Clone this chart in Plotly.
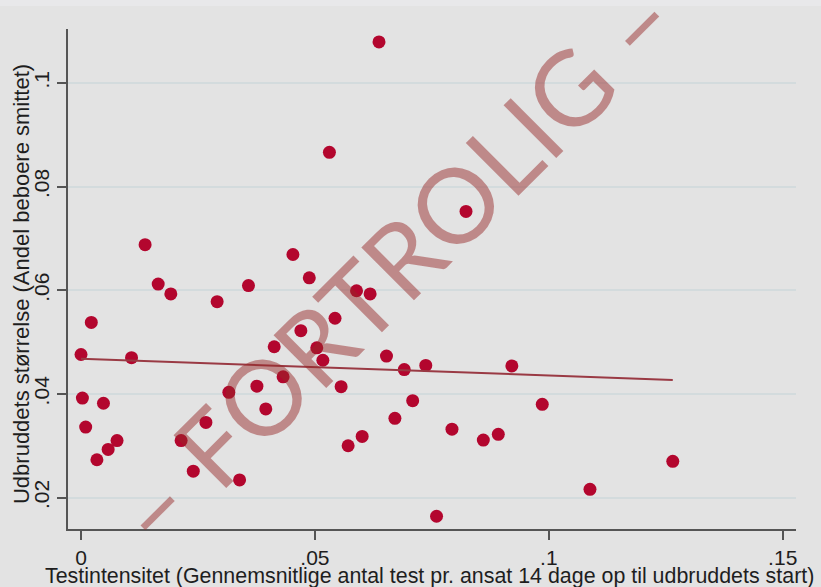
import plotly.graph_objects as go

# Test intensity (x) and outbreak size (y)
test_intensity = [0.0000, 0.0003, 0.0010, 0.0022, 0.0034, 0.0048, 0.0058, 0.0077, 0.0108, 0.0137,
                  0.0165, 0.0192, 0.0214, 0.0240, 0.0267, 0.0291, 0.0316, 0.0339, 0.0358, 0.0376,
                  0.0395, 0.0413, 0.0432, 0.0453, 0.0470, 0.0488, 0.0504, 0.0517, 0.0531, 0.0543,
                  0.0556, 0.0571, 0.0589, 0.0601, 0.0618, 0.0637, 0.0653, 0.0671, 0.0691, 0.0709,
                  0.0737, 0.0760, 0.0793, 0.0823, 0.0860, 0.0892, 0.0921, 0.0986, 0.1088, 0.1265]
outbreak_size = [0.0476, 0.0392, 0.0336, 0.0538, 0.0273, 0.0382, 0.0293, 0.0310, 0.0470, 0.0688,
                 0.0612, 0.0593, 0.0310, 0.0251, 0.0345, 0.0578, 0.0403, 0.0234, 0.0609, 0.0415,
                 0.0371, 0.0491, 0.0433, 0.0669, 0.0522, 0.0624, 0.0489, 0.0465, 0.0866, 0.0546,
                 0.0414, 0.0300, 0.0599, 0.0318, 0.0593, 0.1079, 0.0473, 0.0353, 0.0447, 0.0387,
                 0.0455, 0.0164, 0.0332, 0.0752, 0.0311, 0.0322, 0.0454, 0.0380, 0.0216, 0.0270]

# Linear fit line endpoints
fit_x = [0.0, 0.1265]
fit_y = [0.0468, 0.0427]

x_tickvals = [0, 0.05, 0.1, 0.15]
x_ticktext = ["0", ".05", ".1", ".15"]
y_tickvals = [0.02, 0.04, 0.06, 0.08, 0.1]
y_ticktext = [".02", ".04", ".06", ".08", ".1"]

x_title = "Testintensitet (Gennemsnitlige antal test pr. ansat 14 dage op til udbruddets start)"
y_title = "Udbruddets størrelse (Andel beboere smittet)"
watermark = "– FORTROLIG –"

BG = "#e3e3e3"
FONT = "Liberation Sans, Arial, sans-serif"
TXT = "#1e1e1e"
AX = "#555555"

fig = go.Figure()
fig.add_trace(go.Scatter(
    x=test_intensity, y=outbreak_size, mode="markers",
    marker=dict(size=13, color="#b3062e", line=dict(width=0)),
    showlegend=False, hoverinfo="skip"))
fig.add_trace(go.Scatter(
    x=fit_x, y=fit_y, mode="lines",
    line=dict(color="#9a3a44", width=2),
    showlegend=False, hoverinfo="skip"))

fig.update_layout(
    width=821, height=587,
    margin=dict(l=68, r=25, t=29, b=58, autoexpand=False),
    paper_bgcolor=BG, plot_bgcolor=BG,
    font=dict(family=FONT, size=21, color=TXT),
    xaxis=dict(
        automargin=False,
        range=[-0.00278, 0.15284], tickvals=x_tickvals, ticktext=x_ticktext,
        showgrid=False, zeroline=False, showline=True, linecolor=AX, linewidth=1.5,
        ticks="outside", ticklen=9, tickwidth=1.5, tickcolor=AX, ticklabelstandoff=0,
        tickfont=dict(family=FONT, size=21, color=TXT),
    ),
    yaxis=dict(
        automargin=False,
        range=[0.01394, 0.1104], tickvals=y_tickvals, ticktext=y_ticktext,
        showgrid=True, gridcolor="#d3dbdd", gridwidth=1.5, zeroline=False,
        showline=True, linecolor=AX, linewidth=1.5,
        ticks="outside", ticklen=9, tickwidth=1.5, tickcolor=AX, tickangle=-90,
        tickfont=dict(family=FONT, size=21, color=TXT),
    ),
    shapes=[dict(type="rect", xref="paper", yref="paper", x0=-0.2, x1=1.2, y0=1.046, y1=1.1,
                 fillcolor="#e8e8ea", line=dict(width=0), layer="below")],
    annotations=[
        dict(text=x_title, xref="paper", yref="paper", x=0.497, y=-0.0937,
             xanchor="center", yanchor="middle", showarrow=False,
             font=dict(family=FONT, size=21.4, color=TXT)),
        dict(text=y_title, xref="paper", yref="paper", x=-0.0645, y=0.49,
             xanchor="center", yanchor="middle", showarrow=False, textangle=-90,
             font=dict(family=FONT, size=22, color=TXT)),
        dict(text=watermark, xref="paper", yref="paper", x=0.447, y=0.531,
             xanchor="center", yanchor="middle", showarrow=False, textangle=-45,
             font=dict(family="Lato, Noto Sans, sans-serif", size=104,
                       color="rgba(150,40,40,0.48)")),
    ],
)

fig.write_html("out.html", config={"displayModeBar": False},
               post_script="document.body.style.margin='0';")
